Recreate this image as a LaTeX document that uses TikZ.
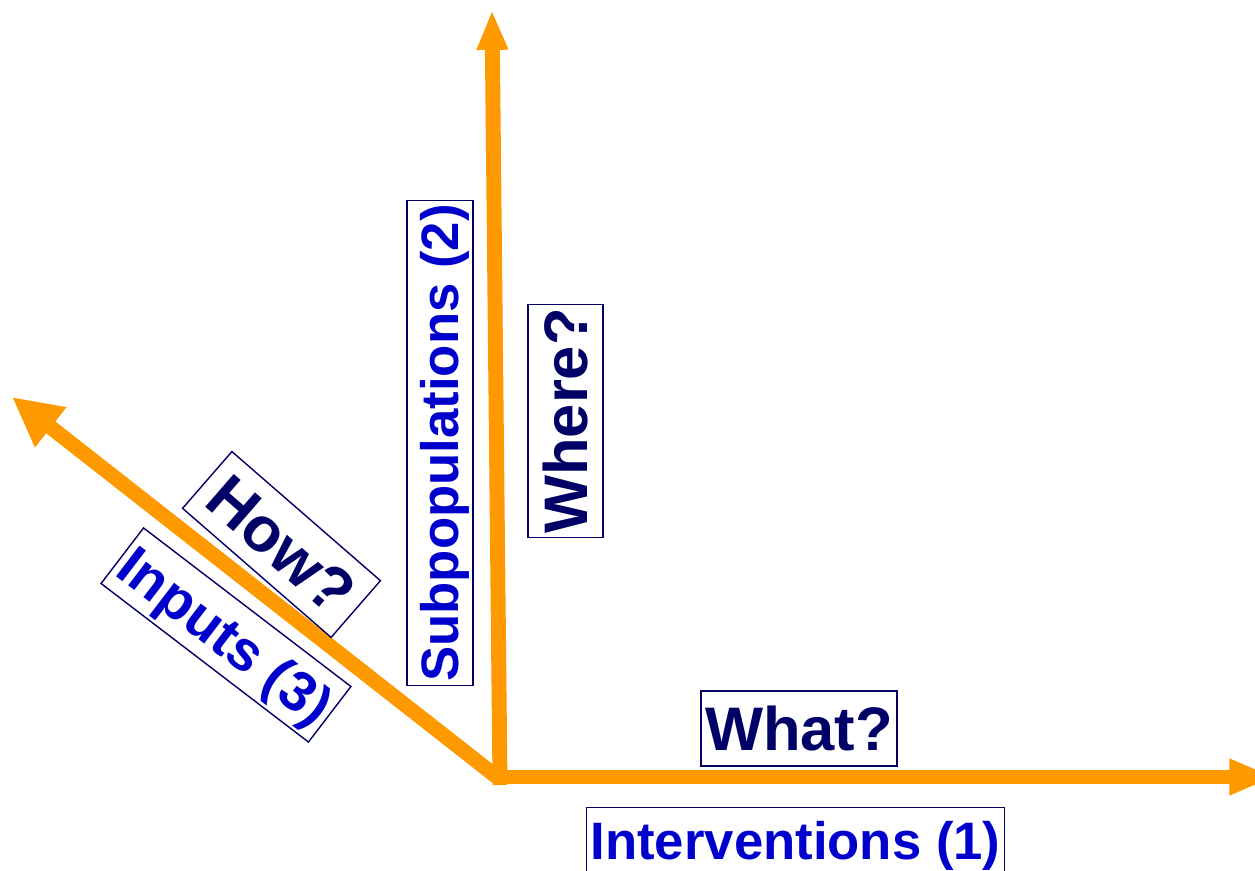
\documentclass[tikz,border=0pt]{standalone}
\usepackage{fontspec}
\setmainfont{Liberation Sans}
\usetikzlibrary{arrows.meta}
\definecolor{axorange}{HTML}{FF9900}
\definecolor{qnavy}{HTML}{000066}
\definecolor{lblue}{HTML}{0000CC}
\begin{document}
\begin{tikzpicture}[x=0.02cm,y=-0.02cm,
  ax/.style={draw=axorange,line width=8.5pt},
  q/.style={draw=qnavy,line width=0.8pt,text=qnavy,inner sep=2.3pt,text height=31.7pt,text depth=6.5pt,font=\fontsize{35}{40}\selectfont\bfseries},
  l/.style={draw=qnavy,line width=0.8pt,text=lblue,inner sep=2.3pt,text height=27pt,text depth=5.8pt,font=\fontsize{30}{36}\selectfont\bfseries}]
\clip (0,0) rectangle (1255,871);
% axes
\coordinate (o) at (497,777);
\coordinate (ox) at (493,777);
\coordinate (oy) at (500,785);
\coordinate (xe) at (1275,777);
\coordinate (ye) at (492,10);
\coordinate (ze) at (12,397);
\draw[ax,-{Triangle[length=28pt,width=27pt]}] (o) -- (ze);
\draw[ax,-{Triangle[length=22.7pt,width=16.4pt]}] (oy) -- (ye);
\draw[ax,-{Triangle[length=26pt,width=19pt]}] (ox) -- (xe);
% labels
\node[q] (what) at (799,728.5) {What?};
\node[l] (int) at (795.5,840.5) {Interventions (1)};
\node[q,rotate=90] (where) at (565.5,421) {Where?};
\node[l,rotate=90] (sub) at (440,443) {Subpopulations (2)};
\node[q,rotate=-41,font=\fontsize{36}{40}\selectfont\bfseries,minimum width=112pt] (how) at (281.5,544.5) {How?};
\node[l,rotate=-37.4,text height=29pt,text depth=6.2pt,font=\fontsize{32}{36}\selectfont\bfseries] (inp) at (226,635) {Inputs (3)};
\end{tikzpicture}
\end{document}
